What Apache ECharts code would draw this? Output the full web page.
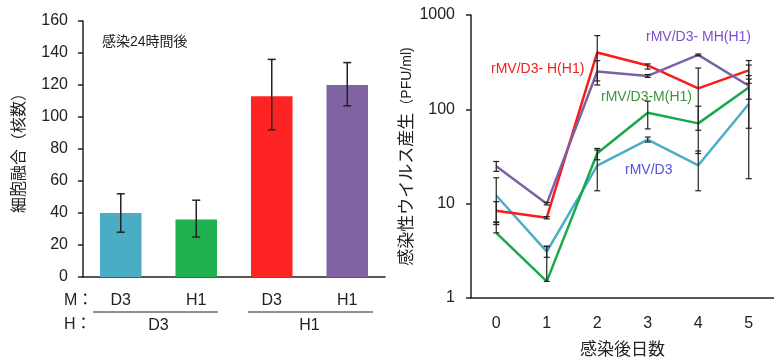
<!DOCTYPE html>
<html>
<head>
<meta charset="utf-8">
<script src="https://cdn.jsdelivr.net/npm/echarts@6/dist/echarts.min.js"></script>
<style>
html, body { margin: 0; padding: 0; background: #fff; }
#chart { width: 774px; height: 364px; }
</style>
</head>
<body>
<div id="chart"></div>
<script>
// left panel - cell fusion 24h after infection
var mGroups = ['D3', 'H1', 'D3', 'H1'];
var hGroups = ['D3', 'H1'];
var fusion = [40, 36, 113, 120];
var fusionLow = [28, 25, 92, 107];
var fusionHigh = [52, 48, 136, 134];
var barColors = ['#4bacc6', '#1fb050', '#ff2424', '#8064a2'];

// right panel - infectious virus production (PFU/ml)
var days = ['0', '1', '2', '3', '4', '5'];
var titerD3 = [12.2, 3.1, 25.3, 47.7, 25.5, 114];
var titerD3Low = [6.0, 2.7, 13.7, 45, 13.7, 18.4];
var titerD3High = [18.8, 3.55, 37, 50.8, 36.2, 209];
var titerM = [4.9, 1.5, 34.2, 92, 71, 170];
var titerMLow = [4.9, 1.5, 29.2, 62, 34, 63];
var titerMHigh = [6.3, 3.5, 38.5, 122, 108, 295];
var titerH = [8.4, 7.1, 401, 292, 167, 259];
var titerHLow = [6.4, 6.9, 200, 267, 60, 189];
var titerHHigh = [10.5, 7.3, 605, 303, 274, 329];
var titerMH = [24.9, 10, 252, 226, 378, 178];
var titerMHLow = [22, 9.7, 181, 218, 370, 128];
var titerMHHigh = [28, 10.3, 328, 234, 386, 228];

var FONT = '"Liberation Sans", "Noto Sans CJK JP", sans-serif';

function errData(low, high) {
    var out = [];
    for (var i = 0; i < low.length; i++) {
        out.push([i, low[i], high[i]]);
    }
    return out;
}

function errorBars(capW, lw) {
    return function (params, api) {
        var x = api.value(0);
        var lo = api.coord([x, api.value(1)]);
        var hi = api.coord([x, api.value(2)]);
        var st = { stroke: '#222', lineWidth: lw };
        return {
            type: 'group',
            children: [
                { type: 'line', shape: { x1: lo[0], y1: lo[1], x2: hi[0], y2: hi[1] }, style: st },
                { type: 'line', shape: { x1: lo[0] - capW, y1: lo[1], x2: lo[0] + capW, y2: lo[1] }, style: st },
                { type: 'line', shape: { x1: hi[0] - capW, y1: hi[1], x2: hi[0] + capW, y2: hi[1] }, style: st }
            ]
        };
    };
}

function lineSeries(name, data, color) {
    return {
        name: name,
        type: 'line',
        xAxisIndex: 2,
        yAxisIndex: 1,
        data: data,
        symbol: 'none',
        lineStyle: { color: color, width: 2.5 },
        z: 3
    };
}

var axisLineStyle = { color: '#222', width: 1.5 };

var option = {
    animation: false,
    textStyle: { fontFamily: FONT },
    grid: [
        { left: 83, top: 21, width: 302, height: 256 },
        { left: 471, top: 15, width: 312, height: 290 }
    ],
    xAxis: [
        {
            type: 'category', gridIndex: 0, data: mGroups,
            axisLine: { lineStyle: axisLineStyle },
            axisTick: { show: false },
            axisLabel: { color: '#222', fontSize: 16, margin: 16 }
        },
        {
            type: 'category', gridIndex: 0, data: hGroups, position: 'bottom',
            axisLine: { show: false },
            axisTick: { show: false },
            axisLabel: { color: '#222', fontSize: 16, margin: 41 }
        },
        {
            type: 'category', gridIndex: 1, data: days,
            axisLine: { lineStyle: axisLineStyle },
            axisTick: { show: false },
            axisLabel: { color: '#222', fontSize: 16, margin: 18 },
            name: '感染後日数',
            nameLocation: 'middle',
            nameGap: 44,
            nameTextStyle: { color: '#222', fontSize: 17, fontFamily: FONT }
        }
    ],
    yAxis: [
        {
            type: 'value', gridIndex: 0, min: 0, max: 160, interval: 20,
            axisLine: { show: true, lineStyle: axisLineStyle },
            axisTick: { show: true, inside: false, length: 5, lineStyle: axisLineStyle },
            axisLabel: { color: '#222', fontSize: 16, margin: 15 },
            splitLine: { show: false },
            name: '細胞融合（核数）',
            nameLocation: 'middle',
            nameRotate: 90,
            nameGap: 55,
            nameTextStyle: { color: '#222', fontSize: 16, fontFamily: FONT }
        },
        {
            type: 'log', gridIndex: 1, logBase: 10, min: 1, max: 1000,
            axisLine: { show: true, lineStyle: axisLineStyle },
            axisTick: { show: true, inside: false, length: 5, lineStyle: axisLineStyle },
            minorTick: { show: false },
            axisLabel: {
                color: '#222', fontSize: 16, margin: 16,
                formatter: function (v) { return String(Math.round(v)); }
            },
            splitLine: { show: false },
            name: '感染性ウイルス産生{s|（PFU/ml)}',
            nameLocation: 'middle',
            nameRotate: 90,
            nameGap: 54,
            nameTextStyle: {
                color: '#222', fontSize: 17, fontFamily: FONT,
                rich: { s: { fontSize: 14, color: '#222', fontFamily: FONT } }
            }
        }
    ],
    series: [
        {
            type: 'bar',
            xAxisIndex: 0,
            yAxisIndex: 0,
            barWidth: '55%',
            data: fusion.map(function (v, i) {
                return { value: v, itemStyle: { color: barColors[i] } };
            })
        },
        {
            type: 'custom',
            xAxisIndex: 0,
            yAxisIndex: 0,
            renderItem: errorBars(4, 1.5),
            encode: { x: 0, y: [1, 2] },
            data: errData(fusionLow, fusionHigh),
            z: 5
        },
        lineSeries('rMV/D3', titerD3, '#4aaec8'),
        lineSeries('rMV/D3-M(H1)', titerM, '#17a94c'),
        lineSeries('rMV/D3- H(H1)', titerH, '#ff1a1a'),
        lineSeries('rMV/D3- MH(H1)', titerMH, '#7d62a3'),
        {
            type: 'custom', xAxisIndex: 2, yAxisIndex: 1,
            renderItem: errorBars(3, 1.2), encode: { x: 0, y: [1, 2] },
            data: errData(titerD3Low, titerD3High), z: 5
        },
        {
            type: 'custom', xAxisIndex: 2, yAxisIndex: 1,
            renderItem: errorBars(3, 1.2), encode: { x: 0, y: [1, 2] },
            data: errData(titerMLow, titerMHigh), z: 5
        },
        {
            type: 'custom', xAxisIndex: 2, yAxisIndex: 1,
            renderItem: errorBars(3, 1.2), encode: { x: 0, y: [1, 2] },
            data: errData(titerHLow, titerHHigh), z: 5
        },
        {
            type: 'custom', xAxisIndex: 2, yAxisIndex: 1,
            renderItem: errorBars(3, 1.2), encode: { x: 0, y: [1, 2] },
            data: errData(titerMHLow, titerMHHigh), z: 5
        }
    ],
    graphic: [
        { type: 'text', left: 102, top: 35, style: { text: '感染24時間後', fill: '#222', font: '14px ' + FONT } },
        { type: 'text', left: 64, top: 293, style: { text: 'M：', fill: '#222', font: '16px ' + FONT } },
        { type: 'text', left: 64, top: 317, style: { text: 'H：', fill: '#222', font: '16px ' + FONT } },
        { type: 'line', shape: { x1: 93, y1: 312, x2: 218, y2: 312 }, style: { stroke: '#222', lineWidth: 1.2 } },
        { type: 'line', shape: { x1: 248, y1: 312, x2: 373, y2: 312 }, style: { stroke: '#222', lineWidth: 1.2 } },
        { type: 'text', left: 646, top: 30, style: { text: 'rMV/D3- MH(H1)', fill: '#7a50c8', font: '14px ' + FONT } },
        { type: 'text', left: 491, top: 62, style: { text: 'rMV/D3- H(H1)', fill: '#ee2020', font: '14px ' + FONT } },
        { type: 'text', left: 601, top: 90, style: { text: 'rMV/D3-M(H1)', fill: '#3c9440', font: '14px ' + FONT } },
        { type: 'text', left: 625, top: 163, style: { text: 'rMV/D3', fill: '#5050e0', font: '14px ' + FONT } }
    ]
};

var chart = echarts.init(document.getElementById('chart'));
chart.setOption(option);
</script>
</body>
</html>
